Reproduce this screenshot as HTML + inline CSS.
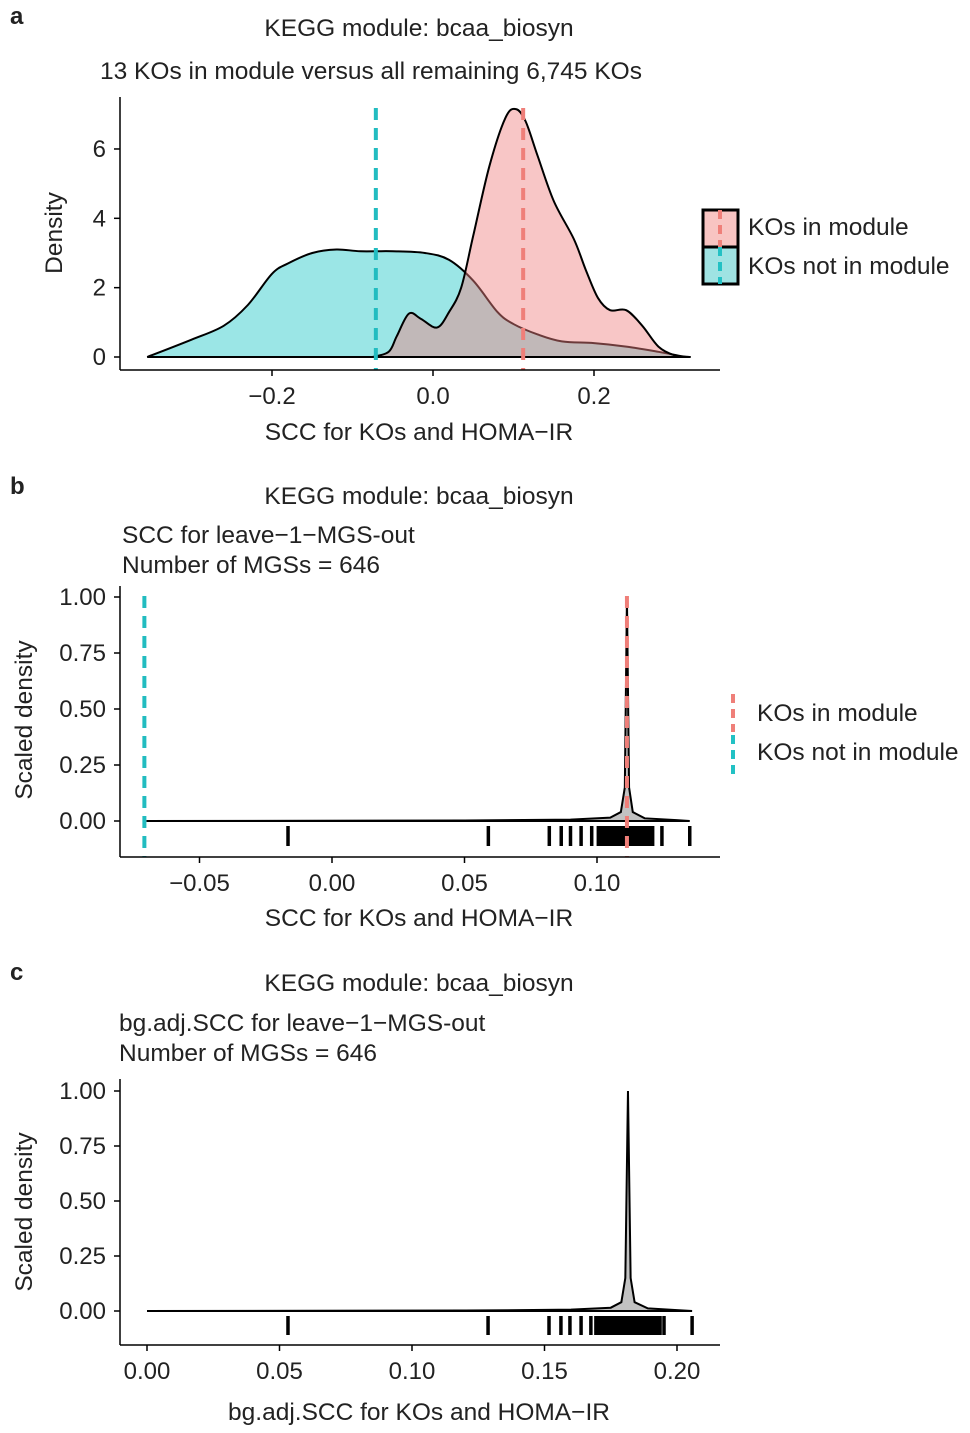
<!DOCTYPE html>
<html><head><meta charset="utf-8"><style>
body{margin:0;background:#fff}
svg text{font-family:"Liberation Sans",sans-serif;fill:#222}
</style></head><body>
<svg id="s" width="970" height="1428" xmlns="http://www.w3.org/2000/svg">
<g font-size="24.5">
<text x="10" y="24" font-weight="bold" font-size="24">a</text>
<text x="419" y="36" text-anchor="middle">KEGG module: bcaa_biosyn</text>
<text x="371" y="79" text-anchor="middle">13 KOs in module versus all remaining 6,745 KOs</text>
<text x="419" y="440" text-anchor="middle">SCC for KOs and HOMA−IR</text>
<text transform="translate(62,233) rotate(-90)" text-anchor="middle">Density</text>
<text x="10" y="494" font-weight="bold" font-size="24">b</text>
<text x="419" y="504" text-anchor="middle">KEGG module: bcaa_biosyn</text>
<text x="122" y="543">SCC for leave−1−MGS-out</text>
<text x="122" y="573">Number of MGSs = 646</text>
<text x="419" y="926" text-anchor="middle">SCC for KOs and HOMA−IR</text>
<text transform="translate(32,720) rotate(-90)" text-anchor="middle">Scaled density</text>
<text x="10" y="980" font-weight="bold" font-size="24">c</text>
<text x="419" y="991" text-anchor="middle">KEGG module: bcaa_biosyn</text>
<text x="119" y="1031">bg.adj.SCC for leave−1−MGS-out</text>
<text x="119" y="1061">Number of MGSs = 646</text>
<text x="419" y="1420" text-anchor="middle">bg.adj.SCC for KOs and HOMA−IR</text>
<text transform="translate(32,1212) rotate(-90)" text-anchor="middle">Scaled density</text>
</g>
<g id="legA">
<rect x="703" y="210" width="35" height="37" fill="#f8c4c2" stroke="#000" stroke-width="3"/>
<rect x="703" y="247" width="35" height="37" fill="#9fe3e3" stroke="#000" stroke-width="3"/>
<line x1="720" y1="210" x2="720" y2="247" stroke="#ef7f79" stroke-width="4" stroke-dasharray="9,6"/>
<line x1="720" y1="247" x2="720" y2="284" stroke="#22c1c4" stroke-width="4" stroke-dasharray="9,6"/>
<text x="748" y="235" font-size="24.5">KOs in module</text>
<text x="748" y="274" font-size="24.5">KOs not in module</text>
</g>
<g>
<line x1="733" y1="694" x2="733" y2="732" stroke="#ef7f79" stroke-width="4" stroke-dasharray="9,6"/>
<line x1="733" y1="735" x2="733" y2="775" stroke="#22c1c4" stroke-width="4" stroke-dasharray="9,6"/>
<text x="757" y="721" font-size="24.5">KOs in module</text>
<text x="757" y="760" font-size="24.5">KOs not in module</text>
</g>
</svg>
<script>
// Panel a data
const aInX=[-0.075,-0.055,-0.045,-0.03,-0.015,0.005,0.02,0.035,0.05,0.07,0.09,0.103,0.115,0.13,0.15,0.175,0.19,0.205,0.22,0.24,0.26,0.28,0.30,0.32];
const aInY=[0,0.15,0.6,1.25,1.1,0.85,1.3,2.0,3.5,5.5,6.9,7.15,6.8,5.8,4.5,3.4,2.5,1.7,1.35,1.35,0.9,0.3,0.05,0];
const aNotX=[-0.355,-0.3,-0.26,-0.23,-0.2,-0.18,-0.15,-0.12,-0.09,-0.05,-0.01,0.02,0.05,0.08,0.10,0.13,0.16,0.20,0.24,0.28,0.31,0.32];
const aNotY=[0,0.5,0.9,1.5,2.4,2.7,3.0,3.1,3.05,3.05,3.0,2.8,2.2,1.3,0.95,0.65,0.45,0.4,0.3,0.15,0.02,0];
const aMeans=[-0.071,0.112];
const aXTicks=[-0.2,0.0,0.2], aXTickLabels=["−0.2","0.0","0.2"];
const aYTicks=[0,2,4,6];
// Panel b data
const bDensX=[-0.07,0.05,0.09,0.105,0.109,0.1105,0.1113,0.1121,0.1135,0.118,0.13,0.135];
const bDensY=[0,0.002,0.006,0.015,0.04,0.15,1.0,0.15,0.04,0.012,0.004,0];
const bRug=[-0.0166,0.059,0.082,0.0865,0.090,0.094,0.098,0.1005,0.1015,0.1025,0.103,0.104,0.105,0.106,0.107,0.108,0.109,0.110,0.111,0.112,0.113,0.114,0.115,0.116,0.117,0.118,0.119,0.1195,0.120,0.121,0.1245,0.135];
const bMeans=[-0.0708,0.1113];
const bXTicks=[-0.05,0,0.05,0.10], bXTickLabels=["−0.05","0.00","0.05","0.10"];
const sYTicks=[0,0.25,0.5,0.75,1.0], sYTickLabels=["0.00","0.25","0.50","0.75","1.00"];
// Panel c data
const cDensX=[0,0.12,0.16,0.175,0.179,0.1805,0.1815,0.1825,0.184,0.189,0.2,0.2057];
const cDensY=[0,0.002,0.006,0.015,0.04,0.15,1.0,0.15,0.04,0.012,0.004,0];
const cRug=[0.0532,0.1287,0.1517,0.1562,0.1596,0.1638,0.1675,0.1694,0.1705,0.1715,0.1725,0.1735,0.1745,0.1755,0.1765,0.1775,0.1785,0.1795,0.1805,0.1815,0.1825,0.1835,0.1845,0.1855,0.1865,0.1875,0.1885,0.1895,0.1905,0.1915,0.1925,0.1936,0.1951,0.2057];
const cXTicks=[0,0.05,0.10,0.15,0.20], cXTickLabels=["0.00","0.05","0.10","0.15","0.20"];

const S=document.getElementById('s'),NS="http://www.w3.org/2000/svg";
function mk(t,a,name){const e=document.createElementNS(NS,t);for(const k in a)e.setAttribute(k,a[k]);


S.appendChild(e);return e;}
function spline(pts){let d="M"+pts[0][0]+","+pts[0][1];
for(let i=0;i<pts.length-1;i++){const p0=pts[Math.max(0,i-1)],p1=pts[i],p2=pts[i+1],p3=pts[Math.min(pts.length-1,i+2)];
const c1=[p1[0]+(p2[0]-p0[0])/6,p1[1]+(p2[1]-p0[1])/6],c2=[p2[0]-(p3[0]-p1[0])/6,p2[1]-(p3[1]-p1[1])/6];
d+=" C"+c1+" "+c2+" "+p2;}return d;}
function axes(L,T,R,B,xs,xt,xl,ys,yt,yl,pre){
 mk('line',{x1:L,y1:T,x2:L,y2:B,stroke:'#000','stroke-width':1.5},pre+'-y-axis');
 mk('line',{x1:L,y1:B,x2:R,y2:B,stroke:'#000','stroke-width':1.5},pre+'-x-axis');
 xt.forEach((v,i)=>{const x=xs(v);mk('line',{x1:x,y1:B,x2:x,y2:B+6,stroke:'#000','stroke-width':1.5},pre+'-x-tick');
  const t=mk('text',{x:x,y:B+34,'text-anchor':'middle','font-size':24},pre+'-x-tick-label');t.textContent=xl[i];});
 yt.forEach((v,i)=>{const y=ys(v);mk('line',{x1:L-6,y1:y,x2:L,y2:y,stroke:'#000','stroke-width':1.5},pre+'-y-tick');
  const t=mk('text',{x:L-14,y:y+8,'text-anchor':'end','font-size':24},pre+'-y-tick-label');t.textContent=yl[i];});
}
// Panel a
const ax=v=>433+v*805, ay=v=>357-v*34.67;
const notPts=aNotX.map((x,i)=>[ax(x),ay(aNotY[i])]);
const inPts=aInX.map((x,i)=>[ax(x),ay(aInY[i])]);
mk('path',{d:spline(notPts)+"Z",fill:'#22c8c8','fill-opacity':0.45,stroke:'#000','stroke-width':2},'density-not-in-module');
mk('path',{d:spline(inPts)+"Z",fill:'#f08080','fill-opacity':0.45,stroke:'#000','stroke-width':2},'density-in-module');
mk('line',{x1:ax(aMeans[0]),y1:108,x2:ax(aMeans[0]),y2:370,stroke:'#22bcc0','stroke-width':4,'stroke-dasharray':'12,8'},'mean-line-not-in-module');
mk('line',{x1:ax(aMeans[1]),y1:108,x2:ax(aMeans[1]),y2:370,stroke:'#ef7f79','stroke-width':4,'stroke-dasharray':'12,8'},'mean-line-in-module');
axes(120,97,720,370,ax,aXTicks,aXTickLabels,ay,aYTicks,aYTicks.map(String),'a');
// Panel b
const bx=v=>332+v*2650, by=v=>821-v*224;
function dens(X,Y,xs,ys,pre){const p=X.map((x,i)=>[xs(x),ys(Y[i])]);
 mk('path',{d:"M"+p.map(q=>q.join(",")).join(" L")+"Z",fill:'#999','fill-opacity':0.6,stroke:'#000','stroke-width':2},pre+'-density');}
function rug(R,xs,y1,y2,pre){R.forEach(v=>mk('line',{x1:xs(v),y1:y1,x2:xs(v),y2:y2,stroke:'#000','stroke-width':3.5},pre+'-rug-tick'));}
dens(bDensX,bDensY,bx,by,'b');rug(bRug,bx,826,846,'b');
mk('line',{x1:bx(bMeans[0]),y1:596,x2:bx(bMeans[0]),y2:857,stroke:'#22bcc0','stroke-width':4,'stroke-dasharray':'12,8'},'b-mean-line-not-in-module');
mk('line',{x1:bx(bMeans[1]),y1:596,x2:bx(bMeans[1]),y2:857,stroke:'#ef7f79','stroke-width':4,'stroke-dasharray':'12,8'},'b-mean-line-in-module');
axes(120,586,720,857,bx,bXTicks,bXTickLabels,by,sYTicks,sYTickLabels,'b');
// Panel c
const cx=v=>147+v*2650, cy=v=>1311-v*220;
dens(cDensX,cDensY,cx,cy,'c');rug(cRug,cx,1316,1335,'c');
axes(120,1079,720,1345,cx,cXTicks,cXTickLabels,cy,sYTicks,sYTickLabels,'c');
</script>
</body></html>
